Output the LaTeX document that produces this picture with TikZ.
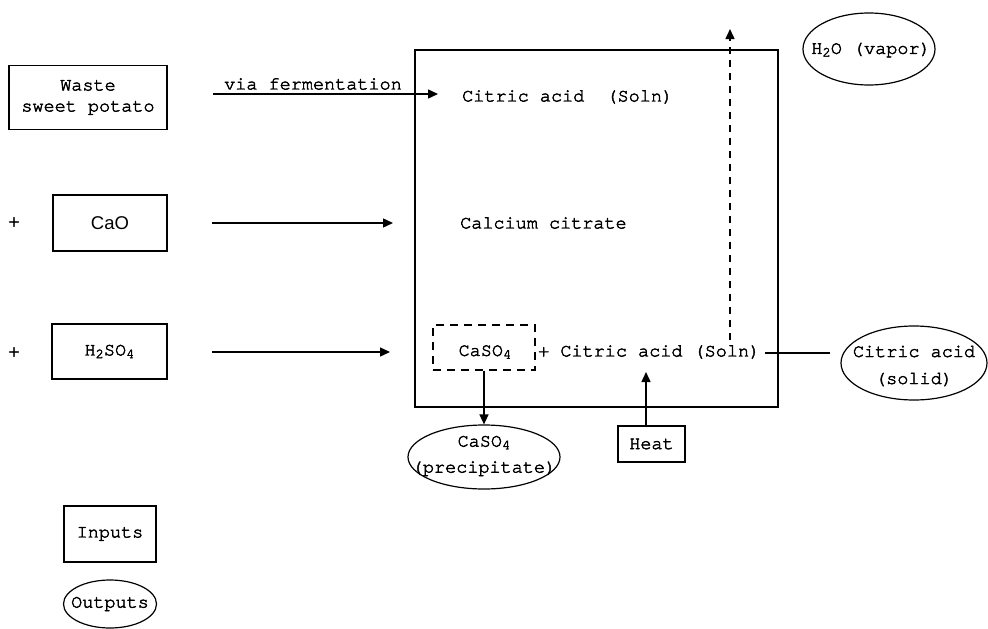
\documentclass[tikz,border=0pt]{standalone}
\usepackage{fontspec}
\setmainfont{TeX Gyre Cursor}[FakeBold=2.4]
\newfontfamily\sansf{Liberation Sans}
\usetikzlibrary{shapes.geometric,arrows.meta}
\newcommand{\subs}[1]{\raisebox{-0.35ex}{\fontsize{14}{14}\selectfont #1}}
\begin{document}
\begin{tikzpicture}[x=1pt,y=-1pt,
  every node/.style={font=\fontsize{18.5}{24}\selectfont},
  lbl/.style={inner sep=0pt, align=center},
  box/.style={draw, line width=1.4pt, inner sep=0pt, align=center},
  oval/.style={draw, ellipse, line width=1.2pt, inner sep=0pt},
  arr/.style={line width=1.4pt, -{Triangle[length=10pt,width=9pt]}},
  dbox/.style={draw, line width=1.4pt, dash pattern=on 8pt off 6pt, inner sep=0pt},
  plain/.style={line width=1.4pt}
]
\useasboundingbox (0,0) rectangle (988,629);

% inputs
\node[box, minimum width=158, minimum height=64] (waste) at (88,97.5) {Waste\\[-3pt]sweet potato};
\node[lbl] (plus1) at (14,222) {+};
\node[box, minimum width=114, minimum height=56] (cao) at (110,223) {\sansf CaO};
\node[lbl] (plus2) at (14,352) {+};
\node[box, minimum width=115, minimum height=55] (acid) at (109.5,351.5) {H\subs{2}SO\subs{4}};

% vessel
\node[draw, plain, minimum width=363, minimum height=357, inner sep=0pt] (vessel) at (596.5,228.5) {};
\node[lbl, anchor=west] (citsoln) at (462,97) {Citric acid\ \ (Soln)};
\node[lbl, anchor=west] (calcit) at (460,223) {Calcium citrate};
\node[dbox, minimum width=102, minimum height=45] (dcas) at (484,347.5) {};
\node[lbl] (caso) at (485,352) {CaSO\subs{4}};
\node[lbl, anchor=west] (citsoln2) at (538,352) {+ Citric acid (Soln)};

% arrows into vessel
\coordinate (f1) at (213,94);
\coordinate (f1e) at (438,94);
\draw[arr] (f1) -- (f1e);
\node[lbl] (viaf) at (313,84) {via fermentation};
\coordinate (c1) at (212,223);
\coordinate (c1e) at (393,223);
\draw[arr] (c1) -- (c1e);
\coordinate (h1) at (212,352);
\coordinate (h1e) at (390,352);
\draw[arr] (h1) -- (h1e);

% outputs
\node[oval, minimum width=152, minimum height=64] (prec) at (484,457) {};
\node[lbl] at (484,456) {CaSO\subs{4}\\[2pt](precipitate)};
\draw[arr] (dcas.south) -- (prec.north);

\node[box, minimum width=67, minimum height=36] (heat) at (651.5,444) {Heat};
\coordinate (heattop) at (646,426);
\coordinate (heattip) at (646,372);
\draw[arr] (heattop) -- (heattip);

\node[oval, minimum width=146, minimum height=74] (solid) at (914,363) {};
\node[lbl] at (914,366) {Citric acid\\[3pt](solid)};
\coordinate (s1) at (765,353);
\coordinate (s1e) at (830,353);
\draw[plain] (s1) -- (s1e);

\node[oval, minimum width=132, minimum height=72] (vapor) at (869,49) {};
\node[lbl] at (871,50) {H\subs{2}O (vapor)};
\coordinate (vb) at (730,340);
\coordinate (vt) at (730,29);
\draw[line width=1.4pt, dash pattern=on 7pt off 6pt] (vb) -- (730,40);
\draw[arr] (730,40) -- (vt);

% legend
\node[box, minimum width=92, minimum height=56] (inputs) at (110,534) {Inputs};
\node[oval, minimum width=93, minimum height=48] (outputs) at (110,604) {};
\node[lbl] at (110,604) {Outputs};
\end{tikzpicture}
\end{document}
